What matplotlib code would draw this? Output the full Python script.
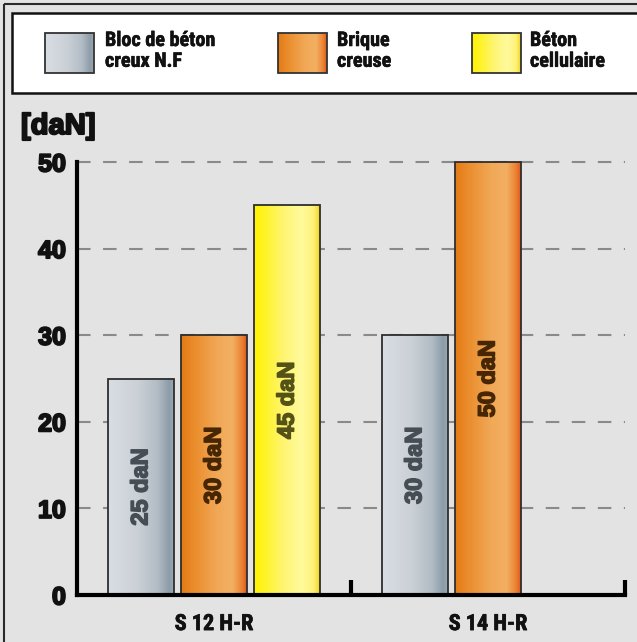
import matplotlib
matplotlib.use("Agg")
import matplotlib.pyplot as plt
import numpy as np
from matplotlib.colors import LinearSegmentedColormap
from matplotlib.patches import Rectangle
from matplotlib import font_manager
from matplotlib.font_manager import FontProperties
import matplotlib.patheffects as pe

categories = ["S 12 H-R", "S 14 H-R"]
series_names = ["Bloc de béton\ncreux N.F", "Brique\ncreuse", "Béton\ncellulaire"]
bloc_beton = [25, 30]
brique = [30, 50]
beton_cell = [45, None]
yticks = [0, 10, 20, 30, 40, 50]
unit_label = "[daN]"

series = [bloc_beton, brique, beton_cell]

grad_stops = [
    [(0, "#d8dee3"), (0.45, "#cad0d6"), (0.75, "#b3bdc5"), (0.93, "#8c9ca8"), (1.0, "#9aa8b3")],
    [(0, "#e47a14"), (0.2, "#ea8d2c"), (0.55, "#f1a857"), (0.78, "#f3b062"), (0.92, "#ec8434"), (1.0, "#df581c")],
    [(0, "#fff200"), (0.12, "#fff31c"), (0.45, "#fef572"), (0.72, "#fffa9c"), (0.9, "#fff27a"), (1.0, "#efd51e")],
]
label_colors = ["#474d54", "#472604", "#545216"]
cmaps = [LinearSegmentedColormap.from_list(f"g{i}", s) for i, s in enumerate(grad_stops)]


def wnum(w):
    if isinstance(w, (int, float)):
        return int(w)
    return font_manager.weight_dict.get(str(w).lower(), 400)


ttf = [f for f in font_manager.fontManager.ttflist if f.style == "normal"]


def pick_narrow():
    keys = ["Liberation Sans Narrow", "Roboto Condensed", "Open Sans Condensed", "Noto Sans Condensed",
            "DejaVu Sans Condensed", "Noto Sans"]
    for k in keys:
        for f in ttf:
            nm = f.name + " " + f.fname
            cond = ("Condensed" in nm or "Narrow" in nm or "condensed" in str(f.stretch))
            if k.split()[0] in f.name and cond and wnum(f.weight) >= 700 and "Extra" not in f.fname and "Semi" not in f.fname:
                return f.fname
    return None


narrow_path = pick_narrow()
BASE = ["Liberation Sans", "DejaVu Sans"]


def bold_fp(size):
    return FontProperties(family=BASE, weight="bold", size=size)


def narrow_fp(size):
    if narrow_path:
        return FontProperties(fname=narrow_path, size=size)
    return FontProperties(family=BASE, weight="bold", size=size * 0.87)


def heavy(color, w=0.9):
    return [pe.withStroke(linewidth=w, foreground=color)]


plt.rcParams["font.family"] = BASE

W, H = 637, 642
fig = plt.figure(figsize=(W / 100, H / 100), dpi=100)
fig.patch.set_facecolor("#e3e3e3")

ov = fig.add_axes([0, 0, 1, 1], zorder=0)
ov.set_xlim(0, W)
ov.set_ylim(H, 0)
ov.axis("off")
ov.add_patch(Rectangle((4, 4), W + 20, H + 20, facecolor="none", edgecolor="#2a2a2a", lw=1.5))
ov.add_patch(Rectangle((12, 13), W + 20, 80, facecolor="white", edgecolor="#111111", lw=1.8))

grad = np.linspace(0, 1, 256).reshape(1, -1)
sw_x = [45, 278, 472]
txt_x = [105, 337, 530]
leg_fp = narrow_fp(14.5)
for i in range(3):
    x0 = sw_x[i]
    ov.imshow(grad, cmap=cmaps[i], extent=(x0, x0 + 49, 73, 33), aspect="auto", zorder=2)
    ov.add_patch(Rectangle((x0, 33), 49, 40, facecolor="none", edgecolor="#333333", lw=1.3, zorder=3))
    ov.text(txt_x[i], 31, series_names[i], ha="left", va="top", fontproperties=leg_fp,
            linespacing=1.12, color="#111111", path_effects=heavy("#111111", 0.4))

ov.text(21, 126, unit_label, ha="left", va="center", fontproperties=bold_fp(21), color="#111111",
        path_effects=heavy("#111111", 1.5))

ax = fig.add_axes([77 / W, 1 - 595 / H, (625 - 77) / W, (595 - 162) / H], zorder=1)
ax.patch.set_alpha(0)

bw = 0.24
step = 0.267
xc = np.arange(len(categories))
bar_fp = bold_fp(17)
for i, vals in enumerate(series):
    for j, v in enumerate(vals):
        if v is None:
            continue
        x = xc[j] + (i - 1) * step
        bar = ax.bar(x, v, width=bw, facecolor="none", edgecolor="#2e2e2e", lw=1.3, zorder=4, clip_on=False)[0]
        bx, by, bwid, bh = bar.get_x(), bar.get_y(), bar.get_width(), bar.get_height()
        ax.imshow(grad, cmap=cmaps[i], extent=(bx, bx + bwid, by, by + bh), aspect="auto", zorder=3, clip_on=False)
        ax.text(x, v / 2, f"{v} daN", rotation=90, ha="center", va="center", fontproperties=bar_fp,
                color=label_colors[i], zorder=5, path_effects=heavy(label_colors[i], 1.1))
ax.set_xlim(-0.5, 1.5)
ax.set_ylim(0, 50)
ax.set_aspect("auto")

for t in yticks[1:]:
    ax.axhline(t, color="#8a8a8a", lw=1.5, ls=(0, (6.5, 6)), zorder=1, clip_on=False)

for s in ["top", "right"]:
    ax.spines[s].set_visible(False)
for s in ["left", "bottom"]:
    ax.spines[s].set_linewidth(3)
    ax.spines[s].set_color("#000000")
    ax.spines[s].set_zorder(6)

ax.set_yticks(yticks)
ax.set_yticklabels([str(t) for t in yticks], fontproperties=bold_fp(18), color="#111111")
for lab in ax.get_yticklabels():
    lab.set_path_effects(heavy("#111111", 1.4))
ax.tick_params(axis="y", length=0, pad=8)
ax.set_xticks(xc)
ax.set_xticklabels(categories, fontproperties=narrow_fp(16), color="#111111")
for lab in ax.get_xticklabels():
    lab.set_path_effects(heavy("#111111", 0.5))
ax.tick_params(axis="x", which="major", length=0, pad=13)
ax.set_xticks([0.5, 1.5], minor=True)
ax.tick_params(axis="x", which="minor", direction="in", length=11, width=3, color="#000000")

fig.savefig("out.png", dpi=100, facecolor=fig.get_facecolor())
